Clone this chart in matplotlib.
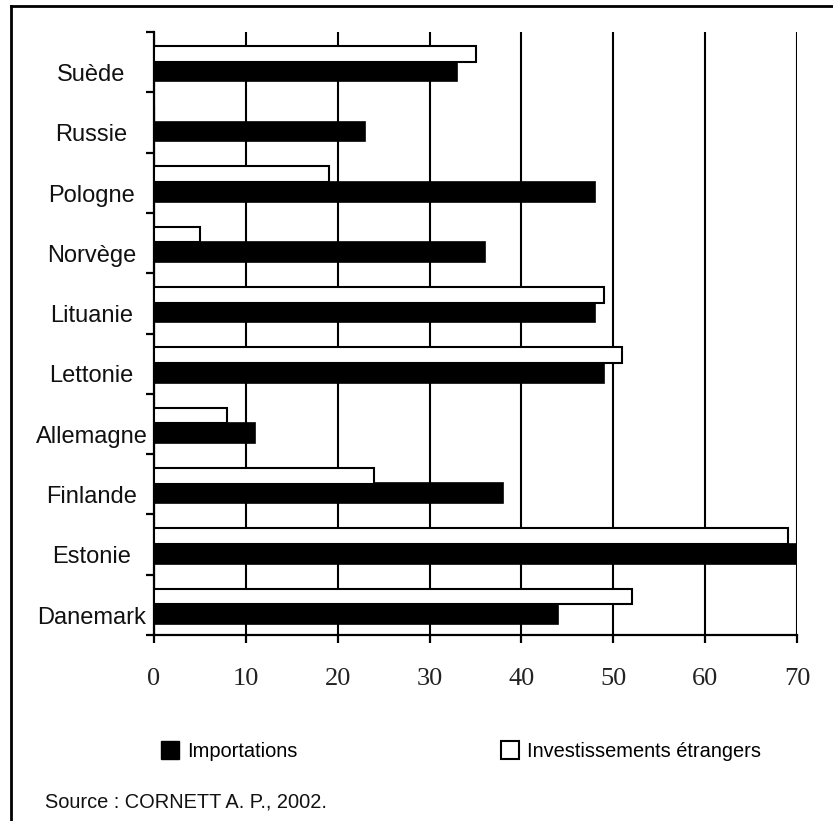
import matplotlib.pyplot as plt
from matplotlib.patches import Patch
from matplotlib.lines import Line2D
import numpy as np

# pays, du bas vers le haut
pays = ["Danemark", "Estonie", "Finlande", "Allemagne", "Lettonie",
        "Lituanie", "Norvège", "Pologne", "Russie", "Suède"]
importations = [44, 70, 38, 11, 49, 48, 36, 48, 23, 33]
investissements = [52, 69, 24, 8, 51, 49, 5, 19, 0, 35]
xticks = [0, 10, 20, 30, 40, 50, 60, 70]

fig = plt.figure(figsize=(8.33, 8.21), dpi=100)
ax = fig.add_axes([154 / 833, 1 - 635 / 821, 643 / 833, 603 / 821])

y = np.arange(len(pays))
ax.barh(y - 0.15, importations, height=0.33, color="black",
        edgecolor="black", linewidth=1.2, zorder=3)
ax.barh(y + 0.14, investissements, height=0.26, color="white",
        edgecolor="black", linewidth=1.5, zorder=3)

ax.set_xlim(0, 70)
ax.set_ylim(-0.5, len(pays) - 0.5)

ax.set_axisbelow(True)
ax.grid(axis="x", color="black", linewidth=1.5)
ax.grid(axis="y", visible=False)

for s in ["top", "right"]:
    ax.spines[s].set_visible(False)
for s in ["left", "bottom"]:
    ax.spines[s].set_linewidth(1.6)

ax.set_xticks(xticks)
ax.set_xticklabels([str(v) for v in xticks], family="Liberation Serif",
                   fontsize=19, color="#222222")
ax.tick_params(axis="x", length=6, width=1.6, pad=18, direction="out")

# graduations aux limites des catégories, étiquettes au centre
ax.set_yticks(np.arange(len(pays) + 1) - 0.5)
ax.set_yticklabels([])
ax.tick_params(axis="y", which="major", length=6, width=1.6, direction="out")
ax.set_yticks(y - 0.17, minor=True)
ax.set_yticklabels(pays, minor=True, family="Liberation Sans", fontsize=17,
                   ha="center", color="#111111")
ax.tick_params(axis="y", which="minor", length=0, pad=45)

handles = [Patch(facecolor="black", edgecolor="black", label="Importations"),
           Patch(facecolor="white", edgecolor="black", linewidth=1.5,
                 label="Investissements étrangers")]
fig.legend(handles=handles, loc="center left",
           bbox_to_anchor=(161 / 833, 1 - 751 / 821), ncol=2, frameon=False,
           prop={"family": "Liberation Sans", "size": 14.4},
           handlelength=0.9, handleheight=1.0, handletextpad=0.4,
           columnspacing=10.2, borderpad=0, borderaxespad=0)

fig.text(45 / 833, 1 - 802 / 821, "Source : CORNETT A. P., 2002.",
         family="Liberation Sans", fontsize=14.4, va="center", ha="left",
         color="#111111")

# cadre (gauche et haut)
fig.add_artist(Line2D([11 / 833, 11 / 833], [0, 1 - 6 / 821],
                      transform=fig.transFigure, color="black", linewidth=2))
fig.add_artist(Line2D([11 / 833, 1], [1 - 6 / 821, 1 - 6 / 821],
                      transform=fig.transFigure, color="black", linewidth=2))

fig.savefig("out.png", dpi=100)
